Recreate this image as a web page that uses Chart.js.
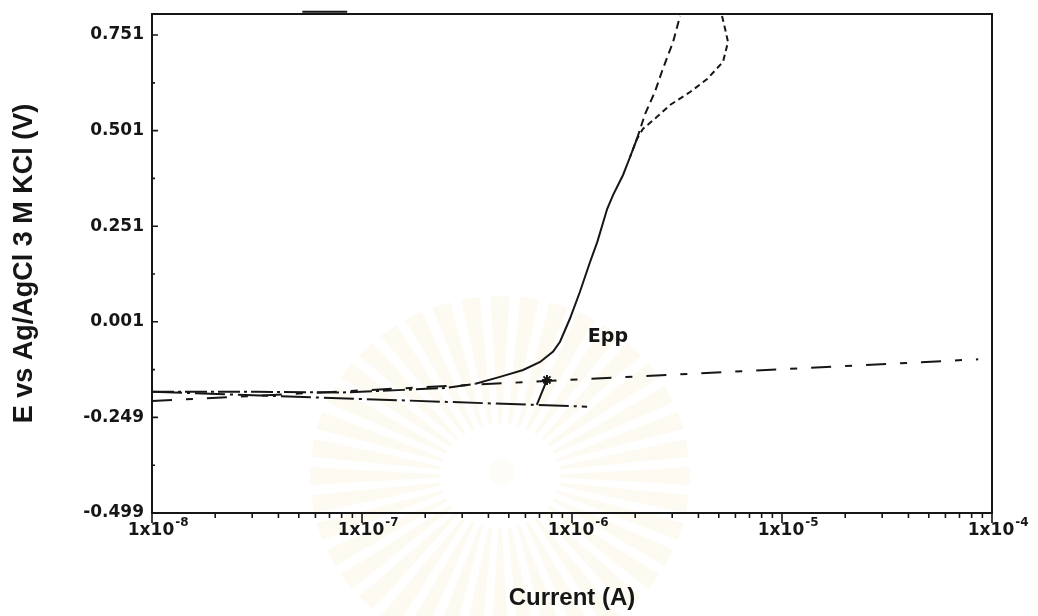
<!DOCTYPE html>
<html>
<head>
<meta charset="utf-8">
<script src="https://cdn.jsdelivr.net/npm/chart.js@4.4.1/dist/chart.umd.min.js"></script>
<style>
  html, body { margin: 0; padding: 0; background: #fff; }
  #wrap { width: 1038px; height: 616px; }
</style>
</head>
<body>
<div id="wrap"><canvas id="chart" width="1038" height="616"></canvas></div>
<script>
// polarization curve — E vs log current

/* ── data ──────────────────────────────────────── */
// forward (anodic) scan
const fwdCurrent = [1.0e-8, 3.16e-8, 7.9e-8, 1.58e-7, 2.5e-7, 3.47e-7, 4.54e-7, 5.85e-7, 7.05e-7,
  8.13e-7, 8.77e-7, 9.77e-7, 1.09e-6, 1.22e-6, 1.32e-6, 1.47e-6, 1.57e-6, 1.75e-6, 1.89e-6,
  2.04e-6, 2.23e-6, 2.48e-6, 2.71e-6, 3.03e-6, 3.27e-6];
const fwdPotential = [-0.182, -0.182, -0.184, -0.177, -0.172, -0.161, -0.143, -0.125, -0.104,
  -0.077, -0.051, 0.009, 0.079, 0.158, 0.210, 0.296, 0.333, 0.385, 0.432,
  0.480, 0.545, 0.602, 0.663, 0.733, 0.801];

// reverse branch, top right
const revCurrent = [5.18e-6, 5.36e-6, 5.53e-6, 5.24e-6, 4.40e-6, 3.65e-6, 2.93e-6, 2.54e-6, 2.18e-6, 2.04e-6, 1.89e-6];
const revPotential = [0.801, 0.767, 0.733, 0.681, 0.636, 0.602, 0.568, 0.537, 0.506, 0.480, 0.432];

// extrapolated lines
const anodicLineCurrent = [1.0e-8, 8.6e-5];
const anodicLinePotential = [-0.206, -0.097];
const cathodicLineCurrent = [1.0e-8, 1.18e-6];
const cathodicLinePotential = [-0.182, -0.221];

// short drop below Epp
const dropCurrent = [7.6e-7, 6.8e-7];
const dropPotential = [-0.151, -0.216];

// Epp point
const eppCurrent = [7.6e-7];
const eppPotential = [-0.151];
const eppLabelCurrent = 1.19e-6;
const eppLabelPotential = -0.040;

// little trace sitting on the top border
const topTraceCurrent = [5.2e-8, 8.5e-8];
const topTracePotential = [0.812, 0.812];

const xTickValues = [1e-8, 1e-7, 1e-6, 1e-5, 1e-4];
const xTickBase = ['1x10', '1x10', '1x10', '1x10', '1x10'];
const xTickExp = ['-8', '-7', '-6', '-5', '-4'];
const yTickValues = [-0.499, -0.249, 0.001, 0.251, 0.501, 0.751];
const yTickLabels = ['-0.499', '-0.249', '0.001', '0.251', '0.501', '0.751'];

const INK = '#161616';

function pts(xs, ys) {
  return xs.map((x, i) => ({ x, y: ys[i] }));
}

/* ── frame, tick marks, watermark, labels ──────── */
const decorations = {
  id: 'decorations',
  beforeDraw(chart) {
    const c = chart.ctx;
    c.save();
    c.fillStyle = '#fff';
    c.fillRect(0, 0, chart.width, chart.height);
    // faint scanned watermark
    const cx = 500, cy = 476;
    c.fillStyle = 'rgba(236, 212, 140, 0.11)';
    for (let i = 0; i < 40; i++) {
      const a = (i / 40) * Math.PI * 2;
      c.beginPath();
      c.moveTo(cx + Math.cos(a - 0.03) * 60, cy + Math.sin(a - 0.03) * 52);
      c.lineTo(cx + Math.cos(a - 0.05) * 190, cy + Math.sin(a - 0.05) * 180);
      c.lineTo(cx + Math.cos(a + 0.05) * 190, cy + Math.sin(a + 0.05) * 180);
      c.lineTo(cx + Math.cos(a + 0.03) * 60, cy + Math.sin(a + 0.03) * 52);
      c.closePath();
      c.fill();
    }
    c.fillStyle = 'rgba(236, 212, 140, 0.08)';
    c.beginPath();
    c.arc(cx + 2, cy - 4, 13, 0, Math.PI * 2);
    c.fill();
    c.restore();
  },
  afterDraw(chart) {
    const c = chart.ctx;
    const { left, right, top, bottom } = chart.chartArea;
    const xs = chart.scales.x, ys = chart.scales.y;
    c.save();
    c.strokeStyle = INK;
    c.lineWidth = 2;
    c.strokeRect(left, top, right - left, bottom - top);

    // x ticks hang below the axis
    c.lineWidth = 1.6;
    c.beginPath();
    xTickValues.forEach(d => {
      const px = xs.getPixelForValue(d);
      c.moveTo(px, bottom); c.lineTo(px, bottom + 10);
      for (let k = 2; k <= 9; k++) {
        const v = d * k;
        if (v > xs.max) break;
        const mx = xs.getPixelForValue(v);
        c.moveTo(mx, bottom); c.lineTo(mx, bottom + 5);
      }
    });
    // y ticks point into the plot
    yTickValues.forEach((v, i) => {
      const py = ys.getPixelForValue(v);
      c.moveTo(left, py); c.lineTo(left + 6, py);
      if (i < yTickValues.length - 1) {
        const my = ys.getPixelForValue((v + yTickValues[i + 1]) / 2);
        c.moveTo(left, my); c.lineTo(left + 3, my);
      }
    });
    c.stroke();

    // x tick labels with raised exponent
    c.fillStyle = INK;
    c.textBaseline = 'alphabetic';
    xTickValues.forEach((v, i) => {
      const px = xs.getPixelForValue(v);
      c.font = 'bold 17px "DejaVu Sans"';
      c.textAlign = 'center';
      c.fillText(xTickBase[i], px - 1, bottom + 22);
      const w = c.measureText(xTickBase[i]).width;
      c.font = 'bold 12px "DejaVu Sans"';
      c.textAlign = 'left';
      c.fillText(xTickExp[i], px - 1 + w / 2 + 1, bottom + 13);
    });

    c.font = 'bold 19px "DejaVu Sans"';
    c.textAlign = 'left';
    c.textBaseline = 'middle';
    c.fillText('Epp', xs.getPixelForValue(eppLabelCurrent), ys.getPixelForValue(eppLabelPotential));
    c.restore();
  }
};

const tickFont = { family: '"DejaVu Sans"', size: 17, weight: 'bold' };

new Chart(document.getElementById('chart'), {
  type: 'scatter',
  data: {
    datasets: [
      {
        data: pts(fwdCurrent, fwdPotential),
        showLine: true, borderColor: INK, borderWidth: 2, pointRadius: 0, tension: 0,
        segment: {
          borderDash: ctx => {
            const y = ctx.p0.parsed.y;
            if (y < -0.165) return [22, 4, 3, 4];
            if (y > 0.44) return [8, 5];
            return undefined;
          },
        },
      },
      {
        data: pts(revCurrent, revPotential),
        showLine: true, borderColor: INK, borderWidth: 2, pointRadius: 0, borderDash: [6, 4],
      },
      {
        data: pts(anodicLineCurrent, anodicLinePotential),
        showLine: true, borderColor: INK, borderWidth: 2, pointRadius: 0, borderDash: [20, 14, 7, 14],
      },
      {
        data: pts(cathodicLineCurrent, cathodicLinePotential),
        showLine: true, borderColor: INK, borderWidth: 2, pointRadius: 0, borderDash: [30, 5, 3, 5],
      },
      {
        data: pts(dropCurrent, dropPotential),
        showLine: true, borderColor: INK, borderWidth: 2, pointRadius: 0,
      },
      {
        data: pts(eppCurrent, eppPotential),
        showLine: false, pointStyle: 'star', pointRadius: 5, borderColor: INK, borderWidth: 2,
      },
      {
        data: pts(topTraceCurrent, topTracePotential),
        showLine: true, borderColor: INK, borderWidth: 2, pointRadius: 0, clip: false,
      },
    ],
  },
  options: {
    responsive: false,
    animation: false,
    events: [],
    layout: { padding: { top: 14, right: 46, left: 0, bottom: 0 } },
    plugins: { legend: { display: false }, tooltip: { enabled: false } },
    scales: {
      x: {
        type: 'logarithmic',
        min: 1e-8,
        max: 1e-4,
        afterBuildTicks: s => { s.ticks = xTickValues.map(v => ({ value: v })); },
        afterFit: s => { s.height = 103; s.paddingLeft = 0; s.paddingRight = 0; },
        grid: { display: false, drawTicks: false },
        border: { display: false },
        ticks: { display: false },
        title: {
          display: true, text: 'Current (A)', color: INK,
          font: { family: '"Liberation Sans", Arial', size: 24, weight: 'bold' },
          padding: { top: 0, bottom: 3 },
        },
      },
      y: {
        type: 'linear',
        min: -0.499,
        max: 0.806,
        afterBuildTicks: s => { s.ticks = yTickValues.map(v => ({ value: v })); },
        afterFit: s => { s.width = 152; s.paddingTop = 0; s.paddingBottom = 0; },
        grid: { display: false, drawTicks: false },
        border: { display: false },
        ticks: {
          autoSkip: false, padding: 8, color: INK, font: tickFont,
          callback: (v, i) => yTickLabels[i],
        },
        title: {
          display: true, text: 'E vs Ag/AgCl 3 M KCl (V)', color: INK,
          font: { family: '"Liberation Sans", Arial', size: 27, weight: 'bold' },
          padding: { top: 8, bottom: 0 },
        },
      },
    },
  },
  plugins: [decorations],
});
</script>
</body>
</html>
